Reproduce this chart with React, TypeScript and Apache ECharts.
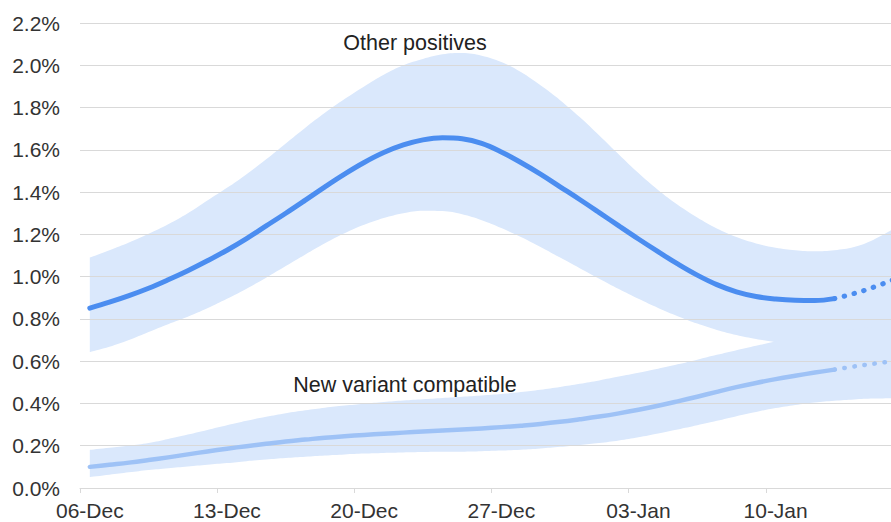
import React, { useEffect, useRef } from "react";
import * as echarts from "echarts";

const dates = [
  "06-Dec","07-Dec","08-Dec","09-Dec","10-Dec","11-Dec","12-Dec",
  "13-Dec","14-Dec","15-Dec","16-Dec","17-Dec","18-Dec","19-Dec",
  "20-Dec","21-Dec","22-Dec","23-Dec","24-Dec","25-Dec","26-Dec",
  "27-Dec","28-Dec","29-Dec","30-Dec","31-Dec","01-Jan","02-Jan",
  "03-Jan","04-Jan","05-Jan","06-Jan","07-Jan","08-Jan","09-Jan",
  "10-Jan","11-Jan","12-Jan","13-Jan","14-Jan","15-Jan","16-Jan",
];

// Percent of people testing positive
const otherPositives = [
  0.851, 0.879, 0.91, 0.945, 0.985, 1.028, 1.075, 1.125, 1.18, 1.24,
  1.3, 1.362, 1.425, 1.485, 1.54, 1.587, 1.623, 1.647, 1.657, 1.652,
  1.63, 1.59, 1.54, 1.485, 1.425, 1.365, 1.303, 1.24, 1.178, 1.118,
  1.06, 1.007, 0.962, 0.928, 0.906, 0.894, 0.888, 0.887, 0.896, 0.92,
  0.95, 0.985,
];
const otherUpper = [
  1.09, 1.125, 1.162, 1.203, 1.248, 1.3, 1.36, 1.42, 1.485, 1.555,
  1.63, 1.705, 1.775, 1.84, 1.9, 1.955, 2.0, 2.03, 2.052, 2.058,
  2.045, 2.015, 1.968, 1.905, 1.835, 1.755, 1.668, 1.578, 1.49, 1.41,
  1.34, 1.28, 1.228, 1.187, 1.157, 1.137, 1.125, 1.12, 1.125, 1.14,
  1.175, 1.225,
];
const otherLower = [
  0.643, 0.668, 0.7, 0.738, 0.775, 0.81, 0.85, 0.895, 0.943, 0.995,
  1.05, 1.105, 1.158, 1.205, 1.245, 1.277, 1.3, 1.312, 1.31, 1.295,
  1.267, 1.23, 1.187, 1.14, 1.09, 1.04, 0.99, 0.941, 0.895, 0.852,
  0.813, 0.778, 0.748, 0.724, 0.705, 0.69, 0.677, 0.667, 0.658, 0.651,
  0.645, 0.64,
];
const newVariant = [
  0.1, 0.11, 0.12, 0.132, 0.145, 0.159, 0.173, 0.186, 0.198, 0.209,
  0.22, 0.229, 0.238, 0.245, 0.251, 0.257, 0.262, 0.267, 0.272, 0.277,
  0.282, 0.288, 0.295, 0.303, 0.313, 0.325, 0.338, 0.353, 0.37, 0.389,
  0.41, 0.432, 0.455, 0.477, 0.497, 0.515, 0.531, 0.546, 0.56, 0.575,
  0.588, 0.6,
];
const newVariantUpper = [
  0.18, 0.19, 0.2, 0.213, 0.232, 0.253, 0.275, 0.297, 0.318, 0.337,
  0.354, 0.368, 0.38, 0.39, 0.399, 0.407, 0.414, 0.42, 0.426, 0.432,
  0.438, 0.445, 0.454, 0.465, 0.478, 0.493, 0.509, 0.527, 0.545, 0.564,
  0.585, 0.607, 0.63, 0.652, 0.673, 0.693, 0.711, 0.727, 0.741, 0.752,
  0.762, 0.771,
];
const newVariantLower = [
  0.052, 0.063, 0.074, 0.085, 0.094, 0.102, 0.11, 0.118, 0.127, 0.135,
  0.142, 0.148, 0.154, 0.159, 0.163, 0.166, 0.168, 0.17, 0.171, 0.172,
  0.174, 0.177, 0.181, 0.187, 0.195, 0.204, 0.213, 0.225, 0.24, 0.258,
  0.277, 0.297, 0.318, 0.34, 0.36, 0.378, 0.393, 0.405, 0.413, 0.419,
  0.423, 0.425,
];
// Index of last modelled (solid) point; later points are projections (dotted)
const lastSolidIndex = 38;

const BAND = "#DAE8FC";
const MAIN = "#4B8DF0";
const NV = "#9EC2F6";
const FONT = '"Liberation Sans", Arial, sans-serif';
const SMOOTH = 0.4;

function solidPart(arr: number[]) {
  return arr.map((v, i) => (i <= lastSolidIndex ? v : null));
}
function dottedPart(arr: number[]) {
  return arr.map((v, i) => (i >= lastSolidIndex ? v : null));
}

function band(name: string, lower: number[], upper: number[]) {
  return [
    {
      name: name + " lower",
      type: "line",
      stack: name,
      data: lower,
      smooth: SMOOTH,
      symbol: "none",
      lineStyle: { width: 0, opacity: 0 },
      z: 1,
      silent: true,
    },
    {
      name: name + " band",
      type: "line",
      stack: name,
      data: upper.map((u, i) => +(u - lower[i]).toFixed(4)),
      smooth: SMOOTH,
      symbol: "none",
      lineStyle: { width: 0, opacity: 0 },
      areaStyle: { color: BAND, opacity: 1 },
      z: 1,
      silent: true,
    },
  ];
}

function lineSeries(name: string, arr: number[], color: string, width: number) {
  return [
    {
      name,
      type: "line",
      data: solidPart(arr),
      smooth: SMOOTH,
      symbol: "none",
      lineStyle: { color, width, cap: "round", join: "round" },
      z: 5,
    },
    {
      name: name + " projection",
      type: "line",
      data: dottedPart(arr),
      smooth: SMOOTH,
      symbol: "none",
      lineStyle: { color, width, type: [0.5, 9.6], cap: "round" },
      z: 5,
    },
  ];
}

export default function App() {
  const ref = useRef<HTMLDivElement>(null);
  useEffect(() => {
    if (!ref.current) return;
    const chart = echarts.init(ref.current, null, { renderer: "svg" });
    chart.setOption({
      animation: false,
      backgroundColor: "#ffffff",
      grid: {
        left: 80,
        right: -12,
        top: 23,
        bottom: 34,
        containLabel: false,
        outerBoundsMode: "none",
      },
      xAxis: {
        type: "category",
        data: dates,
        boundaryGap: true,
        axisLine: { show: true, lineStyle: { color: "#D9D9D9", width: 1 } },
        axisTick: {
          show: true,
          interval: 6,
          length: 5,
          alignWithLabel: false,
          lineStyle: { color: "#D9D9D9" },
        },
        axisLabel: {
          interval: 6,
          margin: 12,
          color: "#333333",
          fontSize: 21,
          fontFamily: FONT,
        },
        splitLine: { show: false },
        z: 3,
      },
      yAxis: {
        type: "value",
        min: 0,
        max: 2.2,
        interval: 0.2,
        axisLine: { show: false },
        axisTick: { show: false },
        axisLabel: {
          margin: 20,
          color: "#333333",
          fontSize: 21,
          fontFamily: FONT,
          formatter: (v: number) => v.toFixed(1) + "%",
        },
        splitLine: { show: true, lineStyle: { color: "#D9D9D9", width: 1 } },
        z: 3,
      },
      graphic: [
        {
          type: "text",
          x: 415,
          y: 43,
          z: 10,
          style: {
            text: "Other positives",
            fill: "#222222",
            font: `21.5px ${FONT}`,
            textAlign: "center",
            textVerticalAlign: "middle",
          },
        },
        {
          type: "text",
          x: 405,
          y: 385,
          z: 10,
          style: {
            text: "New variant compatible",
            fill: "#222222",
            font: `21.5px ${FONT}`,
            textAlign: "center",
            textVerticalAlign: "middle",
          },
        },
      ],
      series: [
        ...band("Other positives", otherLower, otherUpper),
        ...band("New variant compatible", newVariantLower, newVariantUpper),
        ...lineSeries("Other positives", otherPositives, MAIN, 5),
        ...lineSeries("New variant compatible", newVariant, NV, 4.5),
      ],
    });
    return () => chart.dispose();
  }, []);
  return (
    <div
      ref={ref}
      style={{
        position: "fixed",
        left: 0,
        top: 0,
        width: 891,
        height: 522,
        background: "#fff",
      }}
    />
  );
}
